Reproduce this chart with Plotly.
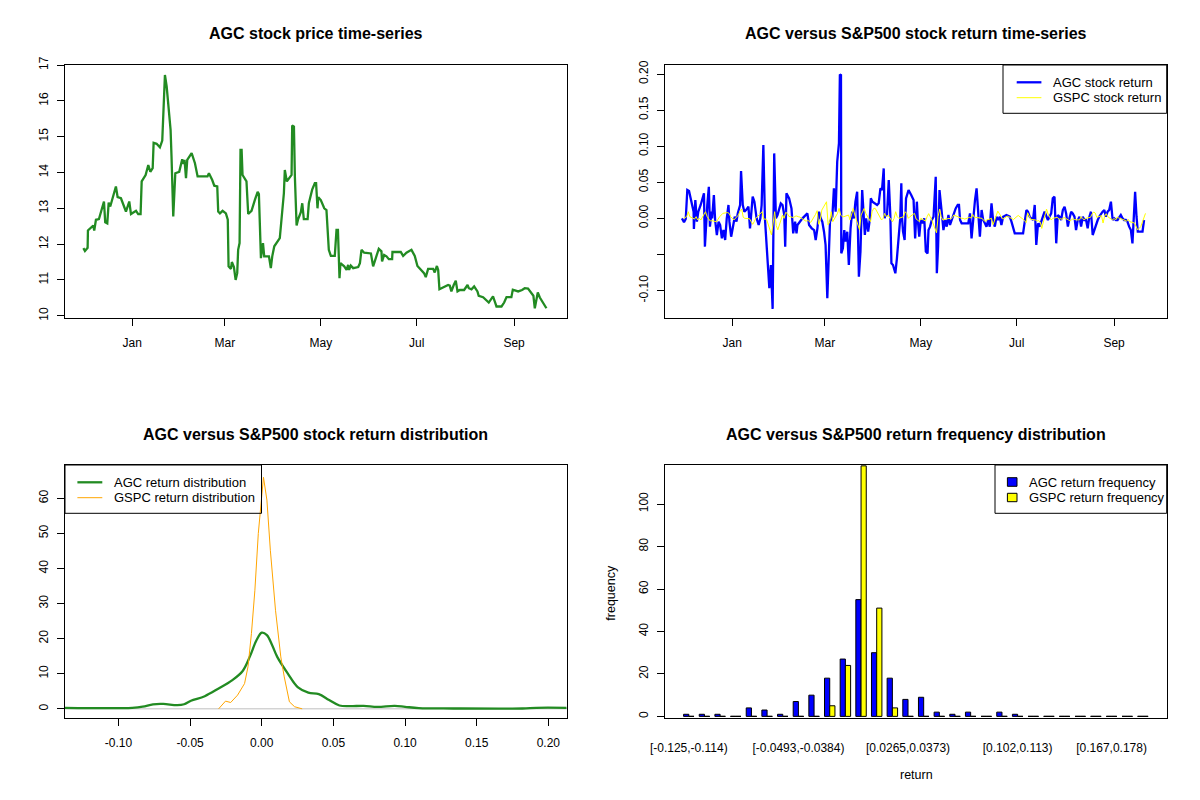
import pandas as pd
import plotly.graph_objects as go

W, H = 1200, 800
FONT = "Liberation Sans, Arial, sans-serif"
base = pd.Timestamp("2015-01-01")

# ---- AGC closing price (day = days since 2015-01-01) ----
price_day = [
    -31.1, -30.1, -28.4, -28.2, -24.8, -24.2, -23.1, -21.2, -18.0, -17.2,
    -15.9, -15.0, -14.0, -10.4, -9.3, -7.2, -4.0, -1.9, -0.8, 2.4,
    3.8, 5.3, 6.0, 8.5, 10.2, 11.5, 13.0, 13.6, 15.5, 17.6,
    19.1, 20.0, 20.8, 21.9, 22.9, 24.4, 25.0, 26.1, 27.4, 29.9,
    31.8, 32.7, 33.3, 34.2, 35.0, 37.8, 39.9, 41.6, 47.9, 48.8,
    50.9, 52.2, 54.1, 54.7, 55.8, 57.5, 59.6, 60.8, 61.3, 62.8,
    63.4, 64.7, 65.8, 66.8, 67.4, 68.3, 68.9, 69.6, 70.2, 72.7,
    73.8, 75.9, 78.0, 79.8, 80.6, 81.9, 83.2, 84.0, 87.0, 88.2,
    89.1, 90.4, 93.9, 95.0, 96.5, 97.1, 97.8, 98.4, 101.4, 101.8,
    102.9, 103.5, 104.6, 105.6, 107.3, 108.2, 109.2, 111.6, 112.4, 114.5,
    116.2, 117.0, 117.9, 118.4, 120.0, 122.2, 123.6, 125.1, 126.4, 128.9,
    130.0, 130.9, 131.9, 132.5, 134.9, 136.4, 137.4, 138.0, 139.1, 140.6,
    143.8, 144.9, 145.9, 147.6, 151.9, 153.3, 155.0, 156.9, 158.6, 159.0,
    160.3, 161.8, 163.3, 165.4, 165.6, 170.9, 172.4, 174.5, 177.7, 179.8,
    181.5, 184.0, 185.7, 186.8, 188.3, 191.5, 192.5, 193.9, 194.7, 195.5,
    196.8, 201.0, 202.1, 203.1, 204.6, 205.9, 207.0, 208.5, 211.2, 213.4,
    214.2, 215.9, 217.6, 219.7, 220.5, 223.3, 226.9, 229.6, 230.7, 231.8,
    235.0, 236.7, 238.2, 241.3, 242.2, 244.1, 245.6, 248.1, 249.8, 251.9,
    254.0, 255.3, 256.2, 257.2, 258.1, 259.4, 261.5, 263.6,
]
price = [
    11.89, 11.81, 11.90, 12.38, 12.52, 12.38, 12.68, 12.70, 13.19, 12.61,
    12.58, 13.16, 13.05, 13.61, 13.31, 13.28, 12.91, 13.19, 12.84, 12.93,
    12.84, 12.84, 13.75, 13.93, 14.21, 14.02, 14.12, 14.83, 14.80, 14.70,
    14.89, 15.70, 16.72, 16.40, 15.84, 15.19, 14.44, 12.77, 13.98, 14.02,
    14.37, 14.24, 14.35, 13.84, 14.35, 14.54, 14.26, 13.89, 13.89, 13.98,
    13.79, 13.63, 13.61, 12.91, 12.86, 12.93, 12.86, 12.68, 11.38, 11.31,
    11.50, 11.36, 11.00, 11.19, 11.84, 12.03, 14.63, 14.63, 13.93, 13.75,
    12.84, 12.93, 13.23, 13.46, 13.40, 11.61, 12.03, 11.66, 11.66, 11.33,
    11.66, 11.94, 12.17, 12.77, 13.42, 14.07, 13.89, 13.75, 13.93, 15.31,
    15.28, 13.89, 12.52, 12.70, 12.89, 13.14, 12.70, 12.70, 13.14, 13.52,
    13.70, 13.70, 13.00, 13.31, 13.23, 13.00, 12.95, 11.84, 11.67, 11.67,
    12.40, 12.40, 11.05, 11.47, 11.38, 11.28, 11.42, 11.28, 11.40, 11.33,
    11.36, 11.47, 11.84, 11.76, 11.74, 11.38, 11.61, 11.87, 11.80, 11.52,
    11.70, 11.66, 11.58, 11.58, 11.78, 11.78, 11.67, 11.76, 11.84, 11.67,
    11.39, 11.28, 11.19, 11.08, 11.31, 11.31, 11.21, 11.39, 11.28, 10.74,
    10.77, 10.86, 10.84, 10.68, 10.86, 10.98, 10.68, 10.72, 10.72, 10.86,
    10.77, 10.74, 10.82, 10.68, 10.56, 10.52, 10.37, 10.54, 10.40, 10.26,
    10.26, 10.37, 10.52, 10.52, 10.73, 10.69, 10.68, 10.72, 10.77, 10.76,
    10.65, 10.56, 10.21, 10.40, 10.65, 10.51, 10.35, 10.21,
]

# ---- AGC daily return ----
agc_day = [
    -32.0, -30.7, -29.6, -28.6, -27.5, -26.0, -24.6, -24.4, -23.5, -22.5,
    -21.6, -20.1, -19.1, -18.0, -17.4, -16.6, -15.9, -14.9, -14.2, -13.2,
    -12.8, -11.7, -10.9, -9.8, -8.7, -7.7, -6.6, -5.6, -4.5, -3.5,
    -2.4, -1.8, -0.7, 0.3, 1.6, 2.7, 3.5, 5.0, 5.6, 6.7,
    7.7, 8.8, 10.3, 11.3, 13.0, 14.1, 15.5, 16.8, 17.9, 18.7,
    19.8, 20.8, 21.9, 22.9, 23.6, 24.6, 25.7, 26.7, 27.8, 28.8,
    29.9, 30.9, 32.0, 33.1, 33.7, 34.5, 36.2, 37.7, 38.8, 40.0,
    40.9, 41.5, 44.7, 47.8, 48.9, 50.6, 52.1, 53.1, 54.2, 55.2,
    56.3, 57.3, 58.4, 59.4, 60.5, 61.6, 62.2, 63.7, 64.7, 65.8,
    66.8, 67.9, 68.5, 69.2, 69.4, 70.4, 71.3, 72.1, 73.2, 74.2,
    75.3, 76.3, 77.4, 78.4, 79.5, 80.6, 81.6, 82.7, 83.5, 84.4,
    85.2, 86.5, 87.5, 88.2, 89.2, 92.2, 93.2, 94.3, 95.3, 96.4,
    97.0, 97.4, 98.5, 99.6, 100.6, 101.3, 102.3, 103.8, 104.8, 105.9,
    106.9, 107.6, 108.0, 108.7, 109.7, 110.6, 112.2, 113.9, 115.4, 116.4,
    117.5, 118.1, 119.0, 120.0, 121.1, 122.2, 123.2, 124.3, 124.9, 125.9,
    127.0, 128.1, 128.7, 129.5, 130.2, 131.0, 131.9, 132.7, 133.6, 134.4,
    135.5, 136.5, 137.6, 138.6, 139.7, 140.7, 142.2, 143.5, 144.3, 145.0,
    146.0, 150.2, 151.3, 152.3, 153.4, 154.5, 155.5, 156.5, 157.6, 158.7,
    159.7, 160.8, 161.8, 162.9, 163.9, 165.0, 166.0, 167.1, 168.2, 169.2,
    170.3, 171.3, 172.4, 174.5, 176.6, 177.7, 179.8, 185.1, 186.1, 187.2,
    188.2, 189.3, 191.4, 192.5, 193.5, 194.6, 195.6, 196.7, 197.7, 198.8,
    199.8, 200.9, 201.9, 203.0, 204.0, 205.1, 206.2, 207.2, 208.3, 209.3,
    210.4, 211.5, 212.5, 213.6, 214.6, 215.7, 216.7, 217.8, 218.8, 219.9,
    221.0, 222.0, 223.1, 224.1, 225.2, 226.2, 227.3, 228.3, 229.4, 230.5,
    231.5, 232.6, 233.6, 234.7, 235.7, 236.8, 237.8, 238.9, 239.9, 241.0,
    242.1, 243.1, 244.2, 245.2, 246.3, 247.3, 248.4, 249.4, 250.5, 251.5,
    252.6, 253.7, 254.7, 255.6, 256.4, 257.3, 258.1, 261.1, 262.1,
]
agc_ret = [
    0.0, -0.0055, -0.0009, 0.0392, 0.0378, 0.0231, 0.0092, -0.0148, 0.0254, -0.0046,
    0.0092, 0.0185, 0.0277, 0.0346, -0.0392, 0.0, 0.0185, 0.0438, -0.0115, 0.0092,
    0.0, 0.0323, -0.0023, -0.0231, -0.0046, -0.0092, -0.0277, -0.0162, -0.030, 0.0,
    0.0185, -0.0046, -0.0254, -0.0138, 0.0023, -0.0046, 0.0069, 0.0185, 0.0655, 0.0185,
    0.0092, 0.0115, 0.0162, -0.0138, 0.030, 0.0231, 0.0, -0.0092, 0.0, 0.0185,
    0.1015, 0.0, -0.0415, -0.0646, -0.0969, -0.0646, -0.1255, 0.090, 0.0, 0.0046,
    0.0138, 0.0208, 0.0185, 0.0046, -0.0392, 0.0346, 0.0277, 0.0138, -0.0208, -0.0046,
    -0.0208, -0.0092, 0.0, 0.0069, -0.0092, -0.0138, -0.0162, -0.030, -0.0138, 0.0092,
    0.0, -0.0046, -0.0185, -0.0369, -0.1108, -0.0554, -0.0046, 0.0023, 0.0415, 0.0092,
    0.0785, 0.1038, 0.1994, 0.1984, -0.0485, -0.0415, -0.0162, -0.0323, -0.0185, -0.0646,
    -0.0138, 0.0092, 0.0, 0.0231, 0.0369, -0.0808, -0.0461, 0.0392, 0.0, -0.0231,
    0.0, -0.0185, -0.0023, 0.0277, 0.0231, 0.0185, 0.0208, 0.0415, 0.0392, 0.0692,
    0.0, 0.0046, 0.0046, 0.0531, 0.0046, -0.0623, -0.0646, -0.0761, -0.0554, -0.0185,
    0.0, 0.0485, 0.0023, -0.0185, -0.030, 0.0277, 0.0392, 0.0323, 0.0254, -0.0277,
    0.0231, -0.0023, -0.0254, -0.0023, -0.0069, 0.0, -0.0461, -0.0485, -0.0162, -0.0115,
    -0.0023, 0.0023, 0.030, 0.0577, -0.0761, -0.0392, 0.0392, 0.0254, 0.0023, -0.0162,
    -0.0023, -0.0115, 0.0046, -0.0092, -0.0023, 0.0023, 0.0138, 0.0185, 0.0185, -0.0023,
    -0.0069, -0.0069, 0.0069, -0.0277, 0.0023, 0.0254, 0.0415, 0.0023, -0.0254, 0.0115,
    -0.0023, -0.0069, -0.0115, -0.0023, -0.0115, 0.0208, -0.0023, -0.0115, 0.0023, -0.0023,
    0.0023, -0.0092, 0.0023, 0.0046, 0.0023, -0.0046, -0.0208, -0.0208, -0.0069, 0.0115,
    0.0092, 0.0023, -0.0023, 0.0185, -0.0369, -0.0069, -0.0115, -0.0023, 0.0023, 0.0092,
    0.0023, -0.0023, 0.0023, 0.0069, 0.0277, 0.030, -0.0346, 0.0046, 0.0023, -0.0023,
    0.0115, 0.0162, 0.0069, -0.0115, 0.0, 0.0092, 0.0069, 0.0023, -0.0162, -0.0023,
    0.0023, -0.0115, 0.0023, -0.0023, -0.0023, -0.0138, 0.0023, 0.0092, -0.0231, -0.0162,
    -0.0069, -0.0023, 0.0023, 0.0069, 0.0092, 0.0115, 0.0023, 0.0092, 0.0115, 0.0231,
    -0.0023, 0.0, -0.0023, -0.0023, 0.0023, 0.0046, 0.0, -0.0023, -0.0023, -0.0046,
    -0.0115, -0.0162, -0.0346, 0.0162, 0.0369, 0.0023, -0.0185, -0.0185, -0.0023,
]

# ---- GSPC daily return, one value per trading day ----
market_holidays = ["2014-12-25", "2015-01-01", "2015-01-19", "2015-02-16",
                   "2015-04-03", "2015-05-25", "2015-07-03", "2015-09-07"]
gspc_ret = [
    # Dec
    0.0, 0.001, 0.0023, 0.0092, 0.0023, -0.001, 0.0023, -0.0023, 0.0, -0.0023,
    0.0092, 0.0023, 0.0, -0.0037, -0.0032, -0.0046, -0.001, 0.0023, 0.0069, 0.008,
    0.0069, 0.0023,
    # Jan
    -0.0023, 0.0046, 0.0106, 0.0129, 0.0014, 0.0, -0.0005, -0.0046, -0.0083, -0.0046,
    0.0, 0.0092, -0.001, -0.001, -0.0023, -0.023, -0.0046, 0.0092, -0.01, -0.016,
    # Feb
    0.0046, 0.0, 0.0083, 0.0069, 0.0028, 0.001, 0.0028, 0.0032, 0.0023, 0.0018,
    -0.0041, -0.0023, -0.0046, -0.0055, 0.0055, 0.0106, -0.0083, -0.0023, 0.0115,
    # Mar
    0.023, -0.0092, -0.005, 0.0092, -0.0046, 0.0069, 0.0138, 0.0046, 0.0023, 0.0023,
    0.0046, -0.0023, 0.0069, 0.0138, 0.0046, -0.016, 0.0046, 0.0092, 0.0138, 0.0069,
    -0.0046, 0.0092,
    # Apr
    0.0138, 0.0138, -0.0023, 0.0, 0.0069, 0.0023, 0.0046, -0.0046, 0.0, 0.0092,
    0.0023, 0.0, 0.0023, 0.0092, 0.0069, 0.0, 0.0023, 0.0069, -0.001, -0.0023,
    -0.0046,
    # May
    0.0, -0.0037, 0.0023, 0.0065, 0.0023, -0.0023, -0.02, 0.0023, 0.0129, 0.0023,
    -0.0023, 0.0, 0.0, -0.001, 0.001, 0.0046, 0.0, 0.0, 0.0, -0.001,
    # Jun
    0.0014, 0.0005, 0.0055, 0.0014, 0.0014, 0.001, 0.0, -0.0028, -0.0041, -0.0023,
    0.0, -0.0088, -0.0023, 0.0018, 0.01, -0.0005, -0.0005, 0.0018, 0.003, 0.0023,
    -0.0018, 0.0005,
    # Jul
    0.0023, 0.004, -0.0028, -0.006, 0.0078, 0.003, -0.0014, -0.0023, -0.0037, -0.0032,
    -0.005, -0.014, 0.0129, 0.006, 0.0023, -0.0023, 0.0, 0.0014, -0.0014, -0.0005,
    -0.0014, 0.0014,
    # Aug
    -0.0023, -0.0037, -0.0018, -0.0005, -0.0018, -0.0023, 0.0023, 0.0, -0.0023, 0.0,
    0.0014, 0.006, 0.0088, 0.0074, 0.0014, 0.0037, -0.0065, 0.003, 0.0065, 0.0023,
    -0.0023,
    # Sep
    0.0, -0.0023, 0.0018, 0.0005, -0.0028, -0.0041, -0.0014, -0.0046, -0.0065, -0.011,
    -0.016, -0.0138, -0.0115, 0.0069,
]

# ---- kernel density curves ----
agc_dens_x = [-0.1373, -0.0904, -0.0831, -0.0759, -0.0687, -0.0590, -0.0542, -0.0494,
              -0.0398, -0.0301, -0.0205, -0.0133, -0.0084, -0.0036, 0.0, 0.0036,
              0.0072, 0.0108, 0.0181, 0.0253, 0.0325, 0.0398, 0.0470, 0.0542, 0.0614,
              0.0711, 0.0807, 0.0928, 0.1000, 0.1096, 0.1337, 0.1819, 0.1916, 0.2128]
agc_dens_y = [0.3, 0.3, 0.6, 1.3, 1.4, 1.05, 1.3, 2.3,
              3.6, 5.8, 8.2, 10.8, 14.8, 19.6, 21.7, 21.0,
              18.2, 14.8, 10.1, 6.1, 4.6, 4.2, 2.5, 0.95, 0.76,
              0.86, 0.57, 0.86, 0.57, 0.2, 0.1, 0.1, 0.3, 0.3]
gspc_dens_x = [-0.0301, -0.0253, -0.0217, -0.0169, -0.0120, -0.0096, -0.0072, -0.0048,
               -0.0024, 0.0, 0.0012, 0.0036, 0.0060, 0.0096, 0.0133, 0.0157, 0.0193,
               0.0229, 0.0282]
gspc_dens_y = [0.0, 2.2, 1.8, 3.9, 7.2, 12.0, 21.5, 33.8,
               50.0, 61.0, 66.0, 59.5, 45.2, 28.1, 14.8, 9.1, 2.0,
               0.6, 0.0]

# ---- return frequency table (30 bins) ----
bin_edges = ["-0.125", "-0.114", "-0.103", "-0.0924", "-0.0816", "-0.0708", "-0.06",
             "-0.0493", "-0.0384", "-0.0276", "-0.0168", "-0.00592", "0.00489", "0.0157",
             "0.0265", "0.0373", "0.0481", "0.0589", "0.0698", "0.0806", "0.0914",
             "0.102", "0.113", "0.124", "0.135", "0.145", "0.156", "0.167", "0.178",
             "0.189", "0.2"]
agc_freq = [1, 1, 1, 0, 4, 3, 1, 7, 10, 18, 27, 55, 30, 18, 8, 9, 2, 1, 2, 0,
            2, 1, 0, 0, 0, 0, 0, 0, 0, 0]
gspc_freq = [0, 0, 0, 0, 0, 0, 0, 0, 0, 5, 24, 118, 51, 4, 0, 0, 0, 0, 0, 0,
             0, 0, 0, 0, 0, 0, 0, 0, 0, 0]
shown_bins = [0, 7, 14, 21, 27]

month_ticks = ["2015-01-01", "2015-03-01", "2015-05-01", "2015-07-01", "2015-09-01"]
month_text = ["Jan", "Mar", "May", "Jul", "Sep"]


def to_dates(days):
    return base + pd.to_timedelta(days, unit="D")


def px(x):
    return x / W


def py(y):
    return 1 - y / H


bin_labels = []
for i in range(len(agc_freq)):
    close = "]" if i == len(agc_freq) - 1 else ")"
    bin_labels.append("[" + bin_edges[i] + "," + bin_edges[i + 1] + close)

gspc_dates = pd.bdate_range("2014-12-01", "2015-09-21", freq="C", holidays=market_holidays)
n_g = min(len(gspc_dates), len(gspc_ret))

fig = go.Figure()

# top left: price
fig.add_trace(go.Scatter(x=to_dates(price_day), y=price, mode="lines",
                         line=dict(color="#228B22", width=2.3), xaxis="x", yaxis="y"))

# top right: returns
fig.add_trace(go.Scatter(x=to_dates(agc_day), y=agc_ret, mode="lines",
                         line=dict(color="#0000FF", width=2.3), xaxis="x2", yaxis="y2"))
fig.add_trace(go.Scatter(x=gspc_dates[:n_g], y=gspc_ret[:n_g], mode="lines",
                         line=dict(color="#FFFF00", width=1), xaxis="x2", yaxis="y2"))

# bottom left: densities
fig.add_trace(go.Scatter(x=agc_dens_x, y=agc_dens_y, mode="lines", line_shape="spline",
                         line=dict(color="#228B22", width=2.3), xaxis="x3", yaxis="y3"))
fig.add_trace(go.Scatter(x=gspc_dens_x, y=gspc_dens_y, mode="lines",
                         line=dict(color="#FFA500", width=1), xaxis="x3", yaxis="y3"))

# bottom right: side-by-side bars, same geometry as R barplot(beside=TRUE)
agc_x = [3 * i + 1.5 for i in range(len(agc_freq))]
gspc_x = [3 * i + 2.5 for i in range(len(gspc_freq))]
fig.add_trace(go.Bar(x=agc_x, y=agc_freq, width=1, marker=dict(color="#0000FF",
                     line=dict(color="black", width=1)), xaxis="x4", yaxis="y4"))
fig.add_trace(go.Bar(x=gspc_x, y=gspc_freq, width=1, marker=dict(color="#FFFF00",
                     line=dict(color="black", width=1)), xaxis="x4", yaxis="y4"))
# zero-height bars still show as a flat outline in R
zx, zy = [], []
for i, c in enumerate(agc_freq):
    if c == 0:
        zx += [3 * i + 1, 3 * i + 2, None]
        zy += [0, 0, None]
for i, c in enumerate(gspc_freq):
    if c == 0:
        zx += [3 * i + 2, 3 * i + 3, None]
        zy += [0, 0, None]
fig.add_trace(go.Scatter(x=zx, y=zy, mode="lines", line=dict(color="black", width=1),
                         xaxis="x4", yaxis="y4"))

axis_style = dict(showline=True, linecolor="black", linewidth=1, mirror=True,
                  ticks="outside", ticklen=7, tickwidth=1, tickcolor="black",
                  showgrid=False, zeroline=False, ticklabelstandoff=6, automargin=False,
                  tickfont=dict(family=FONT, size=12, color="black"))
yaxis_style = dict(axis_style, tickangle=-90, ticklabelstandoff=4)

left_dom = [px(65), px(566.7)]
right_dom = [px(665), px(1166.7)]
top_dom = [py(318.3), py(65)]
bot_dom = [py(718.3), py(465)]
date_range = [str(base + pd.Timedelta(days=-42.8)), str(base + pd.Timedelta(days=276.5))]

layout = dict(
    width=W, height=H, autosize=False,
    margin=dict(l=0, r=0, t=0, b=0, pad=0, autoexpand=False),
    paper_bgcolor="white", plot_bgcolor="white", showlegend=False,
    barmode="overlay", font=dict(family=FONT, size=12, color="black"),
    xaxis=dict(axis_style, domain=left_dom, anchor="y", type="date", range=date_range,
               tickvals=month_ticks, ticktext=month_text),
    yaxis=dict(yaxis_style, domain=top_dom, anchor="x", range=[9.93, 17.0],
               tickvals=list(range(10, 18)), ticktext=[str(v) for v in range(10, 18)]),
    xaxis2=dict(axis_style, domain=right_dom, anchor="y2", type="date", range=date_range,
                tickvals=month_ticks, ticktext=month_text),
    yaxis2=dict(yaxis_style, domain=top_dom, anchor="x2", range=[-0.1385, 0.2125],
                tickvals=[-0.10, -0.05, 0.0, 0.05, 0.10, 0.15, 0.20],
                ticktext=["-0.10", "", "0.00", "0.05", "0.10", "0.15", "0.20"]),
    xaxis3=dict(axis_style, domain=left_dom, anchor="y3", range=[-0.1373, 0.2128],
                tickvals=[-0.10, -0.05, 0.0, 0.05, 0.10, 0.15, 0.20],
                ticktext=["-0.10", "-0.05", "0.00", "0.05", "0.10", "0.15", "0.20"]),
    yaxis3=dict(yaxis_style, domain=bot_dom, anchor="x3", range=[-2.7, 69.5],
                tickvals=[0, 10, 20, 30, 40, 50, 60],
                ticktext=["0", "10", "20", "30", "40", "50", "60"]),
    xaxis4=dict(axis_style, domain=right_dom, anchor="y4", range=[-2.56, 93.56], ticks="",
                tickvals=[3 * i + 2 for i in shown_bins],
                ticktext=[bin_labels[i] for i in shown_bins], ticklabelstandoff=18),
    yaxis4=dict(yaxis_style, domain=bot_dom, anchor="x4", range=[-0.9, 118.4],
                tickvals=[0, 20, 40, 60, 80, 100],
                ticktext=["0", "20", "40", "60", "80", "100"]),
)
fig.update_layout(**layout)


def label(text, x, y, size, angle=0, anchor="center"):
    fig.add_annotation(text=text, x=px(x), y=py(y), xref="paper", yref="paper",
                       showarrow=False, xanchor=anchor, yanchor="middle", textangle=angle,
                       font=dict(family=FONT, size=size, color="black"))


# titles and axis labels
titles = [
    ("AGC stock price time-series", 315.85, 34),
    ("AGC versus S&P500 stock return time-series", 915.85, 34),
    ("AGC versus S&P500 stock return distribution", 315.85, 434),
    ("AGC versus S&P500 return frequency distribution", 915.85, 434),
]
for text, x, y in titles:
    label("<b>" + text + "</b>", x, y, 16)
label("frequency", 611, 592.7, 12.5, angle=-90)
label("return", 916, 775, 12.5)

# zero line of the density plot
fig.add_shape(type="line", xref="x3 domain", yref="y3", x0=0, x1=1, y0=0, y1=0,
              line=dict(color="#BEBEBE", width=1), layer="below")


def legend_box(x0, x1, y0, y1):
    fig.add_shape(type="rect", xref="paper", yref="paper", x0=px(x0), x1=px(x1),
                  y0=py(y1), y1=py(y0), line=dict(color="black", width=1))


def legend_line(x0, x1, y, color, width):
    fig.add_shape(type="line", xref="paper", yref="paper", x0=px(x0), x1=px(x1),
                  y0=py(y), y1=py(y), line=dict(color=color, width=width))


def legend_square(x0, x1, y0, y1, color):
    fig.add_shape(type="rect", xref="paper", yref="paper", x0=px(x0), x1=px(x1),
                  y0=py(y1), y1=py(y0), fillcolor=color, line=dict(color="black", width=1))


# top-right legend
legend_box(1003, 1166.7, 65, 113.3)
legend_line(1016.7, 1041.4, 82.3, "#0000FF", 2.3)
legend_line(1016.7, 1041.4, 97.7, "#FFFF00", 1)
label("AGC stock return", 1051, 82.3, 13, anchor="left")
label("GSPC stock return", 1051, 97.7, 13, anchor="left")

# bottom-left legend
legend_box(65, 261.5, 465, 513.3)
legend_line(77.4, 102.3, 482.3, "#228B22", 2.3)
legend_line(77.4, 102.3, 497.7, "#FFA500", 1)
label("AGC return distribution", 111.5, 482.3, 13, anchor="left")
label("GSPC return distribution", 111.5, 497.7, 13, anchor="left")

# bottom-right legend
legend_box(995, 1166.7, 465, 513.3)
legend_square(1007.4, 1017, 477.7, 486.3, "#0000FF")
legend_square(1007.4, 1017, 493.3, 501.7, "#FFFF00")
label("AGC return frequency", 1026.5, 482, 13, anchor="left")
label("GSPC return frequency", 1026.5, 497.5, 13, anchor="left")

fig.write_html("out.html", config={"displayModeBar": False},
               post_script="document.body.style.margin='0';")
